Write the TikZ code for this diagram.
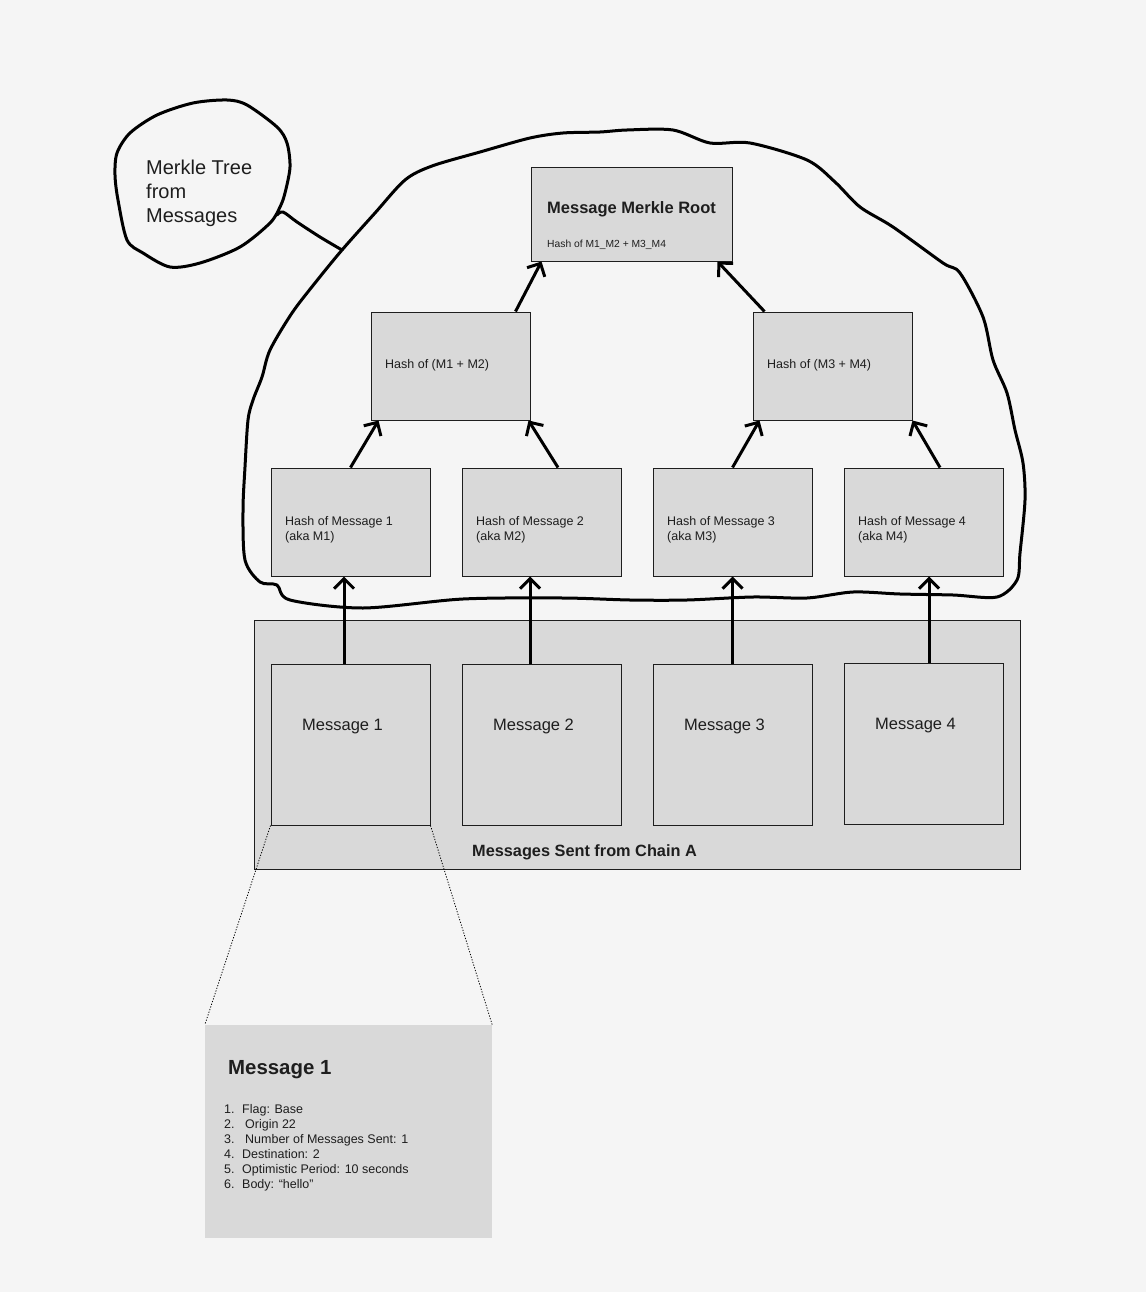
\documentclass[tikz,border=0pt]{standalone}
\usepackage{fontspec}
\setmainfont{Liberation Sans}
\usetikzlibrary{arrows.meta,calc}
\definecolor{bg}{HTML}{F5F5F5}
\definecolor{boxfill}{HTML}{D9D9D9}
\definecolor{ink}{HTML}{1E1E1E}

\begin{document}
\begin{tikzpicture}[x=1pt,y=-1pt,
  box/.style={draw=ink, line width=1pt, fill=boxfill, rectangle, inner sep=0pt},
  panel/.style={fill=boxfill, rectangle, inner sep=0pt},
  txt/.style={inner sep=0pt, text=ink, anchor=west, align=left, yshift=-2.5pt},
  link/.style={line width=3pt, draw=black, -{Straight Barb[length=10pt,width=20pt]}},
  sketch/.style={line width=3pt, line join=round, line cap=round, draw=black},
  zoomline/.style={line width=0.8pt, dash pattern=on 1.2pt off 1.6pt, draw=black}
]
% canvas
\fill[bg] (0,0) rectangle (1146,1292);
\useasboundingbox (0,0) rectangle (1146,1292);

% hand-drawn outline around the hash tree
\draw[sketch] plot[smooth cycle, tension=0.5] coordinates {
  (342,250) (375,213) (405,180) (432,166) (480,152) (530,138) (563,133)
  (600,132) (627,130) (673,130) (710,143) (750,143) (807,160) (835,182)
  (860,207) (893,227) (943,263) (960,273) (983,317) (993,360) (1007,393)
  (1015,430) (1023,463) (1025,500) (1020,553) (1017,580) (997,597)
  (953,595) (900,594) (853,592) (807,598) (753,597) (687,600) (630,600)
  (563,598) (463,599) (363,608) (290,600) (277,585) (260,582) (245,560)
  (243,510) (245,467) (248,420) (253,400) (262,377) (270,350) (292,313)
  (315,283)};

% hand-drawn callout bubble and its tail
\draw[sketch] plot[smooth cycle, tension=0.5] coordinates {
  (280,207) (285,193) (290,167) (287,143) (277,127) (247,105) (227,100)
  (193,103) (157,115) (130,133) (117,153) (115,175) (118,200) (127,240)
  (143,253) (170,267) (200,263) (240,247) (270,223)};
\draw[sketch] plot[smooth, tension=0.5] coordinates {
  (277,215) (283,212) (297,222) (320,237) (342,250)};
\node[txt, font=\fontsize{20}{24}\selectfont] (bubble) at (146,191)
  {Merkle Tree\\from\\Messages};

% tree boxes
\node[box, minimum width=201, minimum height=93] (root) at (631.5,214.5) {};
\node[box, minimum width=159, minimum height=108] (h12) at (450.5,366) {};
\node[box, minimum width=159, minimum height=108] (h34) at (832.5,366) {};
\node[box, minimum width=159, minimum height=108] (l1) at (350.5,522) {};
\node[box, minimum width=159, minimum height=108] (l2) at (541.5,522) {};
\node[box, minimum width=159, minimum height=108] (l3) at (732.5,522) {};
\node[box, minimum width=159, minimum height=108] (l4) at (923.5,522) {};

\node[txt, font=\fontsize{16.5}{20}\selectfont\bfseries] (rootT) at (547,207) {Message Merkle Root};
\node[txt, font=\fontsize{10.3}{12}\selectfont] (rootS) at (547,242) {Hash of M1\_M2 + M3\_M4};
\node[txt, font=\fontsize{12.5}{15}\selectfont] (h12T) at (385,363) {Hash of (M1 + M2)};
\node[txt, font=\fontsize{12.5}{15}\selectfont] (h34T) at (767,363) {Hash of (M3 + M4)};
\node[txt, font=\fontsize{12.5}{15}\selectfont] (l1T) at (285,527.5) {Hash of Message 1\\(aka M1)};
\node[txt, font=\fontsize{12.5}{15}\selectfont] (l2T) at (476,527.5) {Hash of Message 2\\(aka M2)};
\node[txt, font=\fontsize{12.5}{15}\selectfont] (l3T) at (667,527.5) {Hash of Message 3\\(aka M3)};
\node[txt, font=\fontsize{12.5}{15}\selectfont] (l4T) at (858,527.5) {Hash of Message 4\\(aka M4)};

% messages on the source chain
\node[box, minimum width=766, minimum height=249] (chain) at (637,744.5) {};
\node[box, minimum width=159, minimum height=161] (m1) at (350.5,744.5) {};
\node[box, minimum width=159, minimum height=161] (m2) at (541.5,744.5) {};
\node[box, minimum width=159, minimum height=161] (m3) at (732.5,744.5) {};
\node[box, minimum width=159, minimum height=161] (m4) at (923.5,743.5) {};
\node[txt, font=\fontsize{16.5}{20}\selectfont] (m1T) at (302,724) {Message 1};
\node[txt, font=\fontsize{16.5}{20}\selectfont] (m2T) at (493,724) {Message 2};
\node[txt, font=\fontsize{16.5}{20}\selectfont] (m3T) at (684,724) {Message 3};
\node[txt, font=\fontsize{16.5}{20}\selectfont] (m4T) at (875,723) {Message 4};
\node[txt, font=\fontsize{16.3}{20}\selectfont\bfseries] (chainT) at (472,850) {Messages Sent from Chain A};

% detail of message 1
\node[panel, minimum width=287, minimum height=213] (detail) at (348.5,1131.5) {};
\draw[zoomline] (m1.south west) -- (detail.north west);
\draw[zoomline] (m1.south east) -- (detail.north east);
\node[txt, font=\fontsize{20.4}{24}\selectfont\bfseries] (detailT) at (228,1067) {Message 1};
\node[txt, font=\fontsize{12.5}{15}\selectfont] (detailL) at (224,1145.5) {%
  \makebox[18pt][l]{1.}Flag: Base\\
  \makebox[18pt][l]{2.}\hspace{3pt}Origin 22\\
  \makebox[18pt][l]{3.}\hspace{3pt}Number of Messages Sent: 1\\
  \makebox[18pt][l]{4.}Destination: 2\\
  \makebox[18pt][l]{5.}Optimistic Period: 10 seconds\\
  \makebox[18pt][l]{6.}Body: “hello”};

% hashing arrows
\draw[link] ($(m1.north)+(-6.5,0)$) -- ($(l1.south)+(-6.5,0)$);
\draw[link] ($(m2.north)+(-11.5,0)$) -- ($(l2.south)+(-11.5,0)$);
\draw[link] (m3.north) -- (l3.south);
\draw[link] ($(m4.north)+(5.5,0)$) -- ($(l4.south)+(5.5,0)$);
\draw[link] (l1.north) -- ($(h12.south west)+(8,0)$);
\draw[link] ($(l2.north)+(16.5,0)$) -- ($(h12.south east)+(-2,0)$);
\draw[link] (l3.north) -- ($(h34.south west)+(7,0)$);
\draw[link] ($(l4.north)+(16.5,0)$) -- (h34.south east);
\draw[link] ($(h12.north east)+(-15,0)$) -- ($(root.south west)+(11,0)$);
\draw[link] ($(h34.north west)+(12,0)$) -- ($(root.south east)+(-15,0)$);
\end{tikzpicture}
\end{document}
